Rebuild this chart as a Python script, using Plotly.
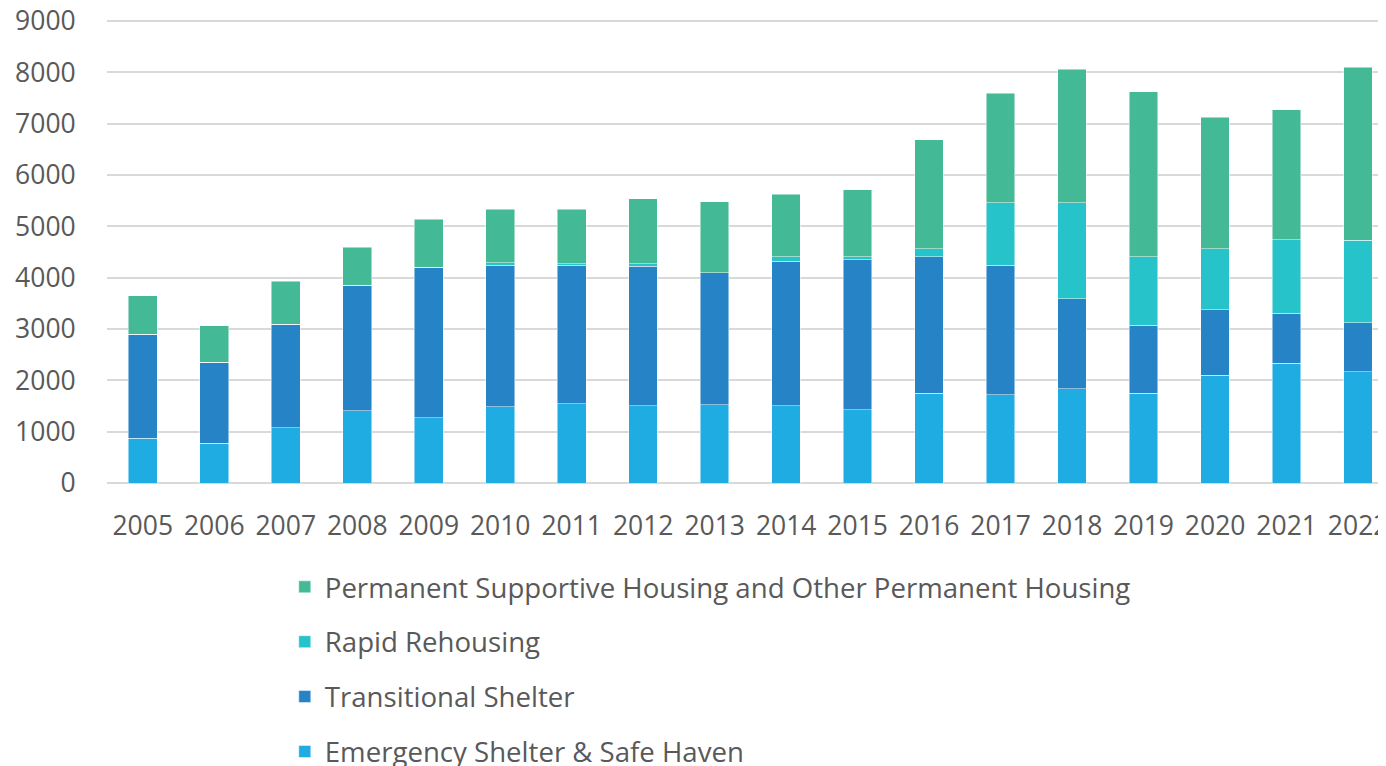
import plotly.graph_objects as go

years = [str(y) for y in range(2005, 2023)]

emergency_shelter = [870, 770, 1075, 1410, 1270, 1485, 1545, 1505, 1525, 1505,
                     1430, 1745, 1720, 1835, 1750, 2095, 2330, 2165]
transitional_shelter = [2030, 1585, 2015, 2440, 2935, 2760, 2700, 2715, 2575, 2815,
                        2925, 2660, 2525, 1755, 1320, 1280, 980, 955]
rapid_rehousing = [0, 0, 0, 0, 0, 45, 25, 55, 0, 85,
                   50, 155, 1215, 1870, 1340, 1190, 1430, 1610]
permanent_housing = [750, 710, 845, 745, 935, 1045, 1060, 1260, 1385, 1220,
                     1305, 2130, 2130, 2600, 3215, 2560, 2530, 3370]

series = [
    ('Emergency Shelter & Safe Haven', emergency_shelter, '#1EACE2'),
    ('Transitional Shelter', transitional_shelter, '#2683C6'),
    ('Rapid Rehousing', rapid_rehousing, '#27C3CA'),
    ('Permanent Supportive Housing and Other Permanent Housing', permanent_housing, '#43BA95'),
]

FONT = 'Open Sans'
TEXT_COLOR = '#595959'
GRID_COLOR = '#D9D9D9'

fig = go.Figure()
for i, (name, values, color) in enumerate(series):
    # legend lists the top of the stack first
    fig.add_trace(go.Bar(x=years, y=values, name=name, legendgroup=f'g{i}', legendrank=len(series) - i,
                         marker=dict(color=color, line=dict(color='rgba(255,255,255,0.6)', width=0.8)),
                         hoverinfo='skip'))

# page body adds an 8px offset, so the figure is 8px smaller than the window
fig.update_layout(
    width=1378, height=758,
    barmode='stack', bargap=0.6,
    plot_bgcolor='white', paper_bgcolor='white',
    margin=dict(l=99, r=0, t=8, b=283, autoexpand=False),
    font=dict(family=FONT, color=TEXT_COLOR, size=26),
    legend=dict(orientation='v', traceorder='grouped', tracegroupgap=16,
                x=0.139, y=-0.17, xanchor='left', yanchor='top',
                font=dict(size=27.6, color=TEXT_COLOR), bgcolor='rgba(0,0,0,0)'),
    xaxis=dict(type='category', range=[-0.5, 17.39], showgrid=False, showline=False,
               ticks='outside', ticklen=19, tickcolor='rgba(0,0,0,0)',
               ticklabeloverflow='allow',
               tickfont=dict(size=26.5, color=TEXT_COLOR)),
    yaxis=dict(range=[0, 9100], dtick=1000, showgrid=True, gridcolor=GRID_COLOR, gridwidth=1.5,
               zeroline=True, zerolinecolor=GRID_COLOR, zerolinewidth=2,
               ticks='outside', ticklen=25, tickcolor='rgba(0,0,0,0)',
               ticklabeloverflow='allow',
               tickfont=dict(size=26.5, color=TEXT_COLOR)),
)

fig.write_html("out.html")
